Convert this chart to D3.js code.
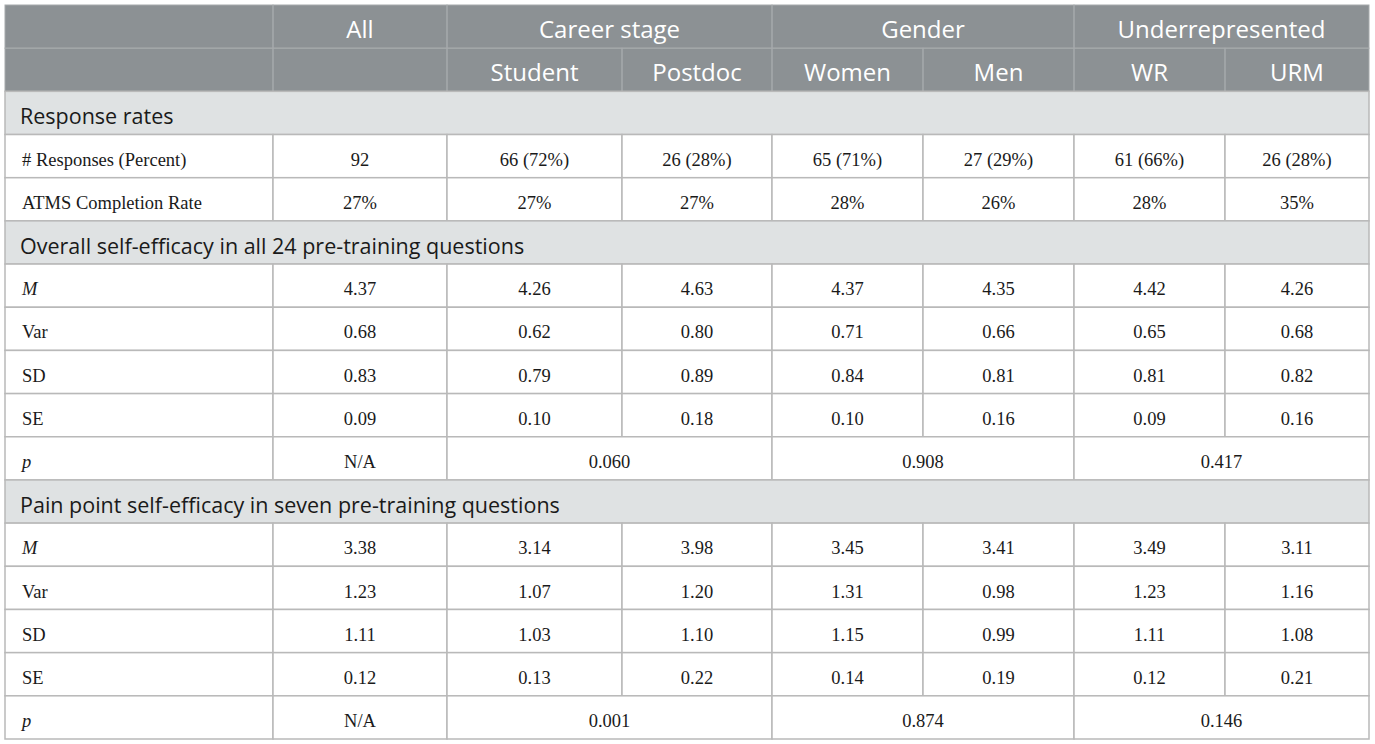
<!DOCTYPE html>
<html>
<head>
<meta charset="utf-8">
<script src="https://cdn.jsdelivr.net/npm/d3@7"></script>
<style>
  html, body { margin: 0; padding: 0; background: #fff; }
</style>
</head>
<body>
<svg id="table" width="1375" height="744"></svg>
<script>
// Table data
const groups = ["All", "Career stage", "Gender", "Underrepresented"];
const subgroups = ["Student", "Postdoc", "Women", "Men", "WR", "URM"];
const sectionTitles = [
  "Response rates",
  "Overall self-efficacy in all 24 pre-training questions",
  "Pain point self-efficacy in seven pre-training questions",
];

const responseLabels = ["# Responses (Percent)", "ATMS Completion Rate"];
const responseValues = [
  ["92", "66 (72%)", "26 (28%)", "65 (71%)", "27 (29%)", "61 (66%)", "26 (28%)"],
  ["27%", "27%", "27%", "28%", "26%", "28%", "35%"],
];

const statLabels = ["M", "Var", "SD", "SE"];
const overallStats = [
  ["4.37", "4.26", "4.63", "4.37", "4.35", "4.42", "4.26"],
  ["0.68", "0.62", "0.80", "0.71", "0.66", "0.65", "0.68"],
  ["0.83", "0.79", "0.89", "0.84", "0.81", "0.81", "0.82"],
  ["0.09", "0.10", "0.18", "0.10", "0.16", "0.09", "0.16"],
];
const overallP = ["N/A", "0.060", "0.908", "0.417"];

const painStats = [
  ["3.38", "3.14", "3.98", "3.45", "3.41", "3.49", "3.11"],
  ["1.23", "1.07", "1.20", "1.31", "0.98", "1.23", "1.16"],
  ["1.11", "1.03", "1.10", "1.15", "0.99", "1.11", "1.08"],
  ["0.12", "0.13", "0.22", "0.14", "0.19", "0.12", "0.21"],
];
const painP = ["N/A", "0.001", "0.874", "0.146"];

const italicLabels = ["M", "p"];

// Layout
const svg = d3.select("#table");
const tLeft = 5, tRight = 1369, tTop = 5, tBottom = 739;
const colWeights = [268, 174, 175, 150, 151, 151, 151, 144];
const colEdges = d3.cumsum([0].concat(colWeights));
const xScale = d3.scaleLinear()
  .domain([0, d3.sum(colWeights)])
  .range([tLeft, tRight]);
const colX = (i) => xScale(colEdges[i]);

// Build row list
const rows = [{ type: "head1" }, { type: "head2" }];
const addBlock = (title, labels, values, pvals) => {
  rows.push({ type: "section", label: title });
  labels.forEach((l, i) => rows.push({ type: "data", label: l, values: values[i] }));
  if (pvals) rows.push({ type: "p", label: "p", values: pvals });
};
addBlock(sectionTitles[0], responseLabels, responseValues, null);
addBlock(sectionTitles[1], statLabels, overallStats, overallP);
addBlock(sectionTitles[2], statLabels, painStats, painP);

const yScale = d3.scaleBand()
  .domain(d3.range(rows.length))
  .range([tTop, tBottom]);
const rh = yScale.bandwidth();

const headFill = "#8c9194";
const headLine = "#a6aaac";
const sectionFill = "#dfe2e3";
const border = "#b9b9b9";
const sans = "'Open Sans', 'Noto Sans', sans-serif";
const serif = "'Liberation Serif', 'DejaVu Serif', serif";

// Header background
svg.append("rect")
  .attr("x", tLeft).attr("y", tTop)
  .attr("width", tRight - tLeft).attr("height", rh * 2)
  .attr("fill", headFill);

// Header cells: [startCol, endCol, label]
const head1Cells = [[0, 1, ""], [1, 2, groups[0]], [2, 4, groups[1]], [4, 6, groups[2]], [6, 8, groups[3]]];
const head2Cells = [[0, 1, ""], [1, 2, ""]].concat(subgroups.map((s, i) => [i + 2, i + 3, s]));

const drawHeadRow = (cells, r) => {
  const g = svg.append("g");
  g.selectAll("rect")
    .data(cells)
    .enter()
    .append("rect")
    .attr("x", (d) => colX(d[0]))
    .attr("y", yScale(r))
    .attr("width", (d) => colX(d[1]) - colX(d[0]))
    .attr("height", rh)
    .attr("fill", "none")
    .attr("stroke", headLine)
    .attr("stroke-width", 1);
  g.selectAll("text")
    .data(cells)
    .enter()
    .append("text")
    .attr("x", (d) => (colX(d[0]) + colX(d[1])) / 2)
    .attr("y", yScale(r) + rh / 2)
    .attr("dy", "0.47em")
    .attr("text-anchor", "middle")
    .attr("fill", "#ffffff")
    .style("font-family", sans)
    .style("font-size", "24px")
    .text((d) => d[2]);
};
drawHeadRow(head1Cells, 0);
drawHeadRow(head2Cells, 1);

// Body rows
rows.forEach((row, r) => {
  if (row.type === "head1" || row.type === "head2") return;
  const y = yScale(r);
  const g = svg.append("g");
  if (row.type === "section") {
    g.append("rect")
      .attr("x", tLeft).attr("y", y)
      .attr("width", tRight - tLeft).attr("height", rh)
      .attr("fill", sectionFill)
      .attr("stroke", border).attr("stroke-width", 1.5);
    g.append("text")
      .attr("x", tLeft + 15)
      .attr("y", y + rh / 2)
      .attr("dy", "0.52em")
      .attr("fill", "#1a1a1a")
      .style("font-family", sans)
      .style("font-size", "21.5px")
      .text(row.label);
    return;
  }
  let cells;
  if (row.type === "data") {
    cells = [[0, 1, row.label]].concat(row.values.map((v, i) => [i + 1, i + 2, v]));
  } else {
    cells = [[0, 1, row.label], [1, 2, row.values[0]], [2, 4, row.values[1]], [4, 6, row.values[2]], [6, 8, row.values[3]]];
  }
  g.selectAll("rect")
    .data(cells)
    .enter()
    .append("rect")
    .attr("x", (d) => colX(d[0]))
    .attr("y", y)
    .attr("width", (d) => colX(d[1]) - colX(d[0]))
    .attr("height", rh)
    .attr("fill", "#ffffff")
    .attr("stroke", border)
    .attr("stroke-width", 1.5);
  g.selectAll("text")
    .data(cells)
    .enter()
    .append("text")
    .attr("x", (d) => (d[0] === 0 ? colX(0) + 17 : (colX(d[0]) + colX(d[1])) / 2))
    .attr("y", y + rh / 2)
    .attr("dy", "0.52em")
    .attr("text-anchor", (d) => (d[0] === 0 ? "start" : "middle"))
    .attr("fill", "#1a1a1a")
    .style("font-family", serif)
    .style("font-size", "18.5px")
    .style("font-style", (d) => (d[0] === 0 && italicLabels.includes(d[2]) ? "italic" : "normal"))
    .text((d) => d[2]);
});
</script>
</body>
</html>
